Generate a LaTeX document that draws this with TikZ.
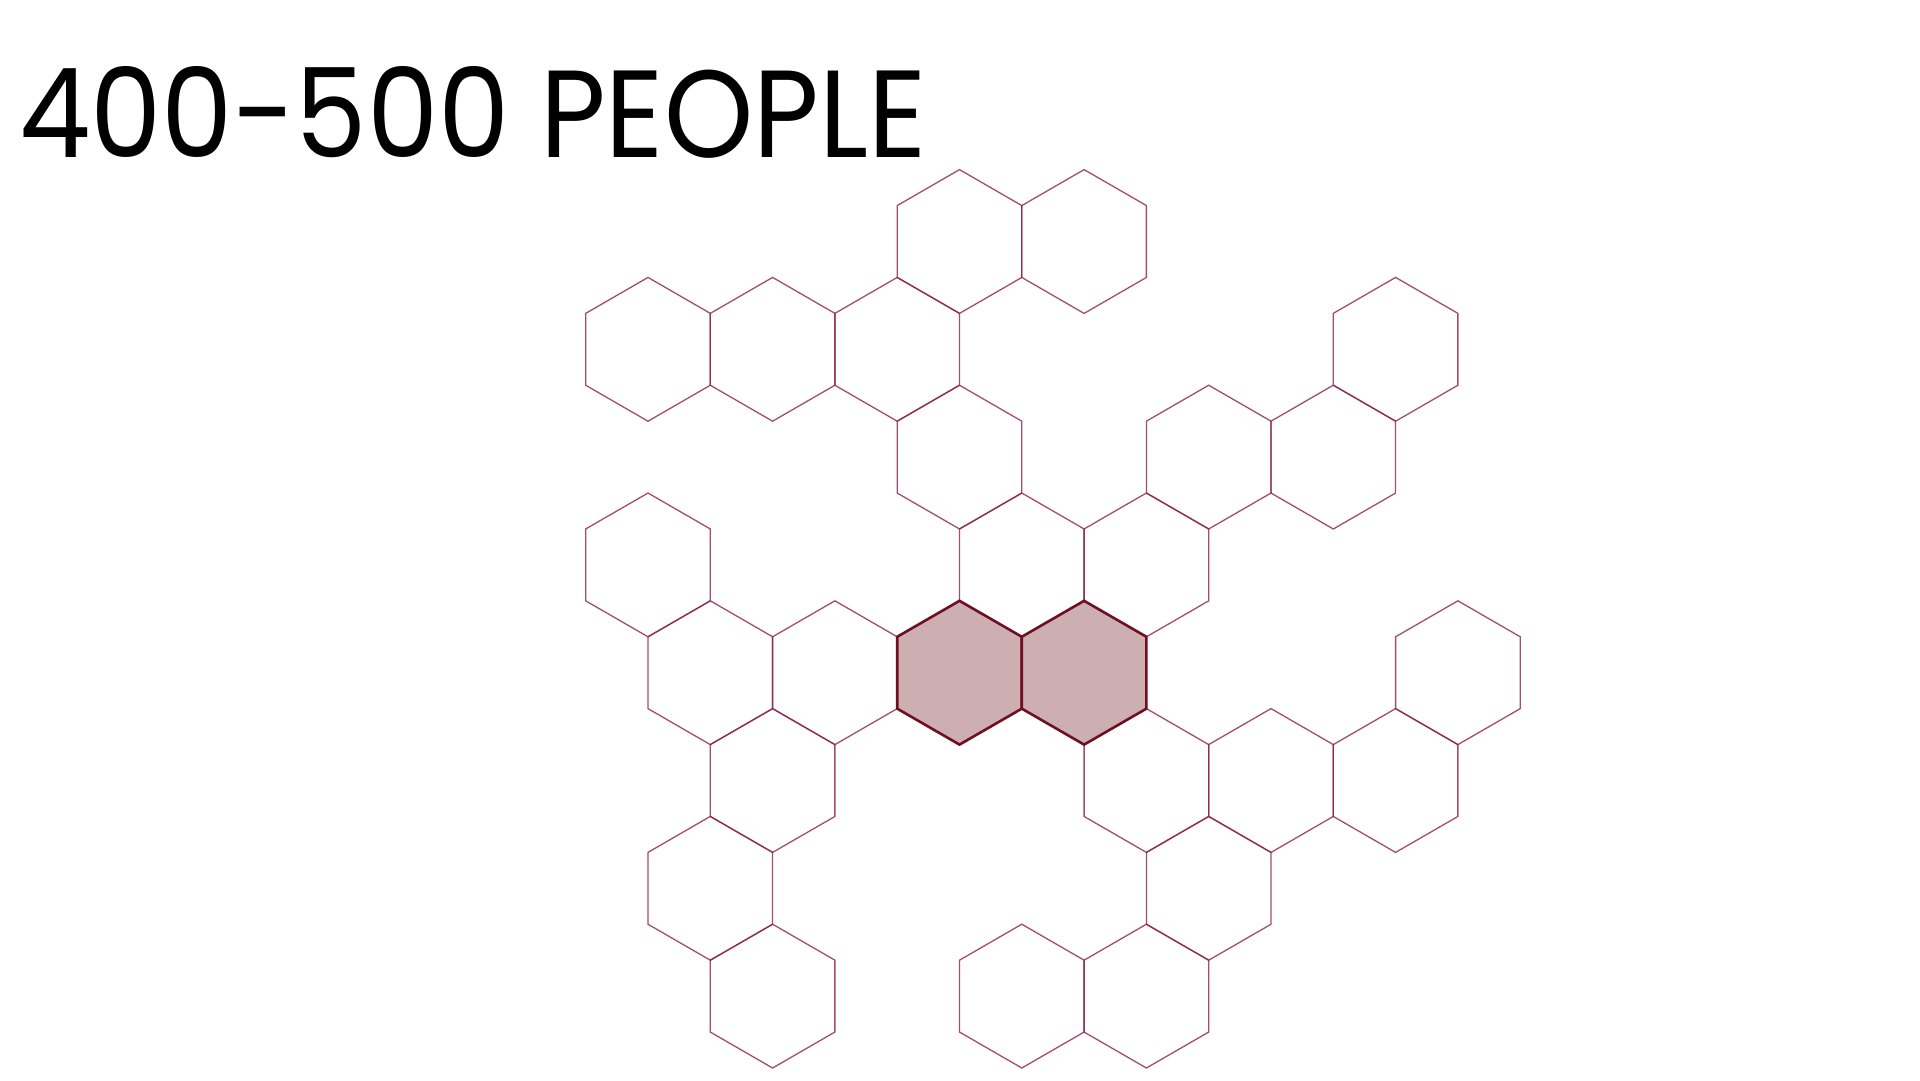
\documentclass[tikz,border=0pt]{standalone}
\usepackage{fontspec}
\setmainfont{Poppins}
\usepackage{graphicx}
\definecolor{hexline}{RGB}{140,35,68}
\definecolor{hexdark}{RGB}{110,15,35}
\definecolor{hexfill}{RGB}{205,174,177}
\tikzset{
  hexa/.pic={\draw[pic actions] (90:71.9) -- (150:71.9) -- (210:71.9) -- (270:71.9) -- (330:71.9) -- (30:71.9) -- cycle;},
  thinhex/.style={draw=hexline, draw opacity=0.8, line width=1.3pt, line join=miter},
  shadehex/.style={draw=hexdark, fill=hexfill, line width=2.6pt, line join=miter}
}
\begin{document}
\begin{tikzpicture}[x=1pt,y=-1pt]
\useasboundingbox (0,0) rectangle (1920,1080);
\fill[white] (0,0) rectangle (1920,1080);
\node[anchor=base west, inner sep=0pt] (title) at (19,157.7) {\resizebox{907pt}{91pt}{400-500 PEOPLE}};
\foreach \n/\k in {0/-4, 1/-4,
  -2.5/-3, -1.5/-3, -0.5/-3, 3.5/-3,
  0/-2, 2/-2, 3/-2,
  -2.5/-1, 0.5/-1, 1.5/-1,
  -2/0, -1/0, 4/0,
  -1.5/1, 1.5/1, 2.5/1, 3.5/1,
  -2/2, 2/2,
  -1.5/3, 0.5/3, 1.5/3}
  \pic[thinhex] at ({959.5+\n*124.6},{672.7+\k*107.8}) {hexa};
\foreach \n in {0,1}
  \pic[shadehex] at ({959.5+\n*124.6},672.7) {hexa};
\end{tikzpicture}
\end{document}
